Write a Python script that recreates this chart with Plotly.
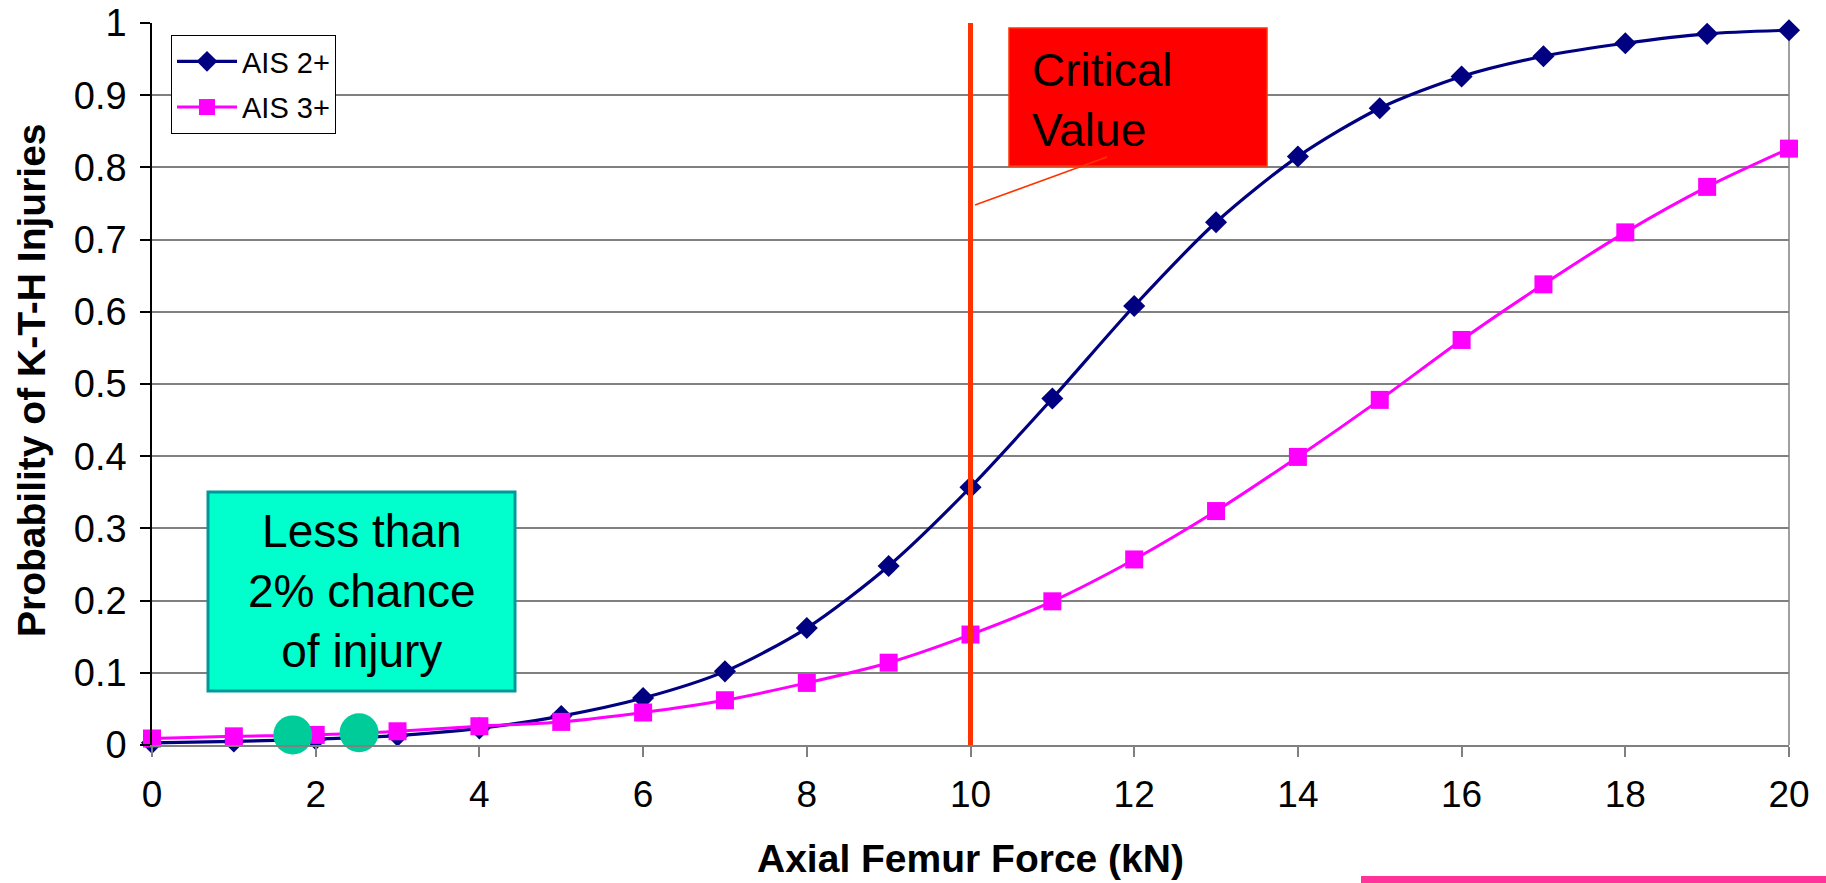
import plotly.graph_objects as go

# ---- data ----
force_kn = list(range(21))
ais2_prob = [0.003, 0.005, 0.008, 0.013, 0.023, 0.040, 0.065, 0.102, 0.162, 0.248,
             0.357, 0.480, 0.608, 0.724, 0.815, 0.882, 0.926, 0.954, 0.972, 0.985, 0.990]
ais3_prob = [0.009, 0.012, 0.014, 0.019, 0.026, 0.032, 0.045, 0.062, 0.086, 0.114,
             0.153, 0.199, 0.257, 0.324, 0.399, 0.478, 0.561, 0.638, 0.710, 0.773, 0.826]
highlight_x = [1.72, 2.53]
highlight_y = [0.014, 0.017]
critical_kn = 10
x_ticks = list(range(0, 21, 2))
y_ticks = [0, 0.1, 0.2, 0.3, 0.4, 0.5, 0.6, 0.7, 0.8, 0.9, 1]
y_ticktext = ["0", "0.1", "0.2", "0.3", "0.4", "0.5", "0.6", "0.7", "0.8", "0.9", "1"]

FONT = "Arial, Liberation Sans, sans-serif"
W, H = 1826, 883
L, R, T, B = 152, 37, 23, 138
PW, PH = W - L - R, H - T - B

def px(x):  # pixel -> paper x
    return (x - L) / PW

def py(y):  # pixel -> paper y
    return (H - B - y) / PH

fig = go.Figure()
fig.add_trace(go.Scatter(
    x=force_kn, y=ais2_prob, name="AIS 2+", mode="lines+markers",
    line=dict(color="#000080", width=3.2, shape="spline", smoothing=0.8),
    marker=dict(symbol="diamond", size=17, color="#000080"),
    cliponaxis=False, legendgroup="a"))
fig.add_trace(go.Scatter(
    x=force_kn, y=ais3_prob, name="AIS 3+", mode="lines+markers",
    line=dict(color="#FF00FF", width=3, shape="spline", smoothing=0.8),
    marker=dict(symbol="square", size=18, color="#FF00FF"),
    cliponaxis=False, legendgroup="b"))
fig.add_trace(go.Scatter(
    x=highlight_x, y=highlight_y, mode="markers", showlegend=False,
    marker=dict(symbol="circle", size=39, color="#00CC99"),
    cliponaxis=False))

shapes = [
    # right border of plot area
    dict(type="line", xref="x domain", yref="y domain", x0=1, x1=1, y0=0, y1=1,
         line=dict(color="#808080", width=1.5), layer="below"),
    # critical value line
    dict(type="line", xref="x", yref="y", x0=critical_kn, x1=critical_kn, y0=0, y1=1,
         line=dict(color="#FF3300", width=5), layer="above"),
    # red box
    dict(type="rect", xref="paper", yref="paper",
         x0=px(1009), x1=px(1267), y0=py(166), y1=py(28),
         fillcolor="#FF0000", line=dict(color="#FF3300", width=1.5), layer="above"),
    # leader line
    dict(type="line", xref="paper", yref="paper",
         x0=px(1107), y0=py(157), x1=px(975), y1=py(205),
         line=dict(color="#FF3300", width=1.5), layer="above"),
    # teal box
    dict(type="rect", xref="paper", yref="paper",
         x0=px(208), x1=px(515), y0=py(691), y1=py(492),
         fillcolor="#00FFCC", line=dict(color="#009999", width=3), layer="above"),
    # pink bar bottom right
    dict(type="rect", xref="paper", yref="paper",
         x0=px(1361), x1=px(1830), y0=py(883), y1=py(876),
         fillcolor="#FF3399", line=dict(width=0), layer="above"),
]

annotations = [
    dict(text="Critical<br>Value", xref="paper", yref="paper", x=px(1030), y=py(100),
         xanchor="left", yanchor="middle", align="left", showarrow=False,
         font=dict(family=FONT, size=46, color="black")),
    dict(text="Less than<br>2% chance<br>of injury", xref="paper", yref="paper",
         x=px(361.5), y=py(591), xanchor="center", yanchor="middle", align="center",
         showarrow=False, font=dict(family=FONT, size=46, color="black")),
    dict(text="<b>Axial Femur Force (kN)</b>", xref="paper", yref="paper",
         x=px(971), y=py(858), xanchor="center", yanchor="middle", showarrow=False,
         font=dict(family=FONT, size=39, color="black")),
    dict(text="<b>Probability of K-T-H Injuries</b>", xref="paper", yref="paper",
         x=px(31), y=py(380), xanchor="center", yanchor="middle", showarrow=False,
         textangle=-90, font=dict(family=FONT, size=39, color="black")),
]

fig.update_layout(
    width=W, height=H,
    margin=dict(l=L, r=R, t=T, b=B, autoexpand=False),
    paper_bgcolor="white", plot_bgcolor="white",
    font=dict(family=FONT, color="black"),
    shapes=shapes, annotations=annotations,
    legend=dict(x=px(171), y=py(35), xanchor="left", yanchor="top",
                bordercolor="black", borderwidth=1, bgcolor="white",
                font=dict(family=FONT, size=29, color="black"),
                itemwidth=60,
                traceorder="grouped", tracegroupgap=5),
    xaxis=dict(range=[0, 20], tickvals=x_ticks, ticks="outside", ticklen=10,
               tickcolor="#808080", tickwidth=1.5, showline=True, linecolor="#808080",
               linewidth=1.5, showgrid=False, zeroline=False, automargin=False,
               ticklabelstandoff=6,
               tickfont=dict(family=FONT, size=37, color="black")),
    yaxis=dict(range=[0, 1], tickvals=y_ticks, ticktext=y_ticktext, ticks="outside",
               ticklen=10, tickcolor="black", tickwidth=1.5, showline=True,
               linecolor="black", linewidth=1.5, showgrid=True, gridcolor="#808080",
               gridwidth=1.5, zeroline=False, automargin=False,
               ticklabelstandoff=6,
               tickfont=dict(family=FONT, size=38, color="black")),
)

fig.write_html("out.html")
